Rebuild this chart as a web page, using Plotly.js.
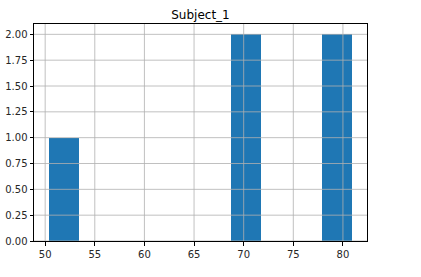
<!DOCTYPE html>
<html>
<head>
<meta charset="utf-8">
<script src="https://cdn.plot.ly/plotly-3.0.1.min.js"></script>
<style>html,body{margin:0;padding:0;background:#fff;}#chart{width:421px;height:277px;}</style>
</head>
<body>
<div id="chart"></div>
<script>
// Data (estimated Subject_1 scores)
const subjectValues = [50.4, 69.5, 71.0, 78.5, 80.9];
const binCount = 10;
const xTickValues = [50, 55, 60, 65, 70, 75, 80];
const yTickValues = [0, 0.25, 0.5, 0.75, 1.0, 1.25, 1.5, 1.75, 2.0];
const chartTitle = 'Subject_1';

// Histogram binning like matplotlib (equal-width bins from min to max)
const vmin = Math.min(...subjectValues);
const vmax = Math.max(...subjectValues);
const binWidth = (vmax - vmin) / binCount;
const counts = new Array(binCount).fill(0);
subjectValues.forEach(v => {
  let i = Math.floor((v - vmin) / binWidth);
  if (i >= binCount) i = binCount - 1;
  counts[i] += 1;
});
const centers = counts.map((_, i) => vmin + binWidth * (i + 0.5));

const xPad = (vmax - vmin) * 0.05;
const yMax = Math.max(...counts) * 1.05;

const gridColor = '#b0b0b0';
const shapes = [];
xTickValues.forEach(t => shapes.push({type: 'line', xref: 'x', yref: 'paper', x0: t, x1: t, y0: 0, y1: 1,
  line: {color: gridColor, width: 0.8}, layer: 'above'}));
yTickValues.forEach(t => shapes.push({type: 'line', xref: 'paper', yref: 'y', x0: 0, x1: 1, y0: t, y1: t,
  line: {color: gridColor, width: 0.8}, layer: 'above'}));

const trace = {
  type: 'bar',
  x: centers,
  y: counts,
  width: binWidth,
  marker: {color: '#1f77b4', line: {width: 0}},
  hoverinfo: 'x+y'
};

const axisFont = {family: 'DejaVu Sans', size: 10, color: '#262626'};
const layout = {
  width: 421, height: 277,
  margin: {l: 34, r: 54, t: 24, b: 36, pad: 0},
  paper_bgcolor: '#ffffff', plot_bgcolor: '#ffffff',
  showlegend: false,
  bargap: 0,
  title: {text: chartTitle, font: {family: 'DejaVu Sans', size: 12, color: '#000000'},
    x: 0.5, xref: 'paper', xanchor: 'center', y: 1, yref: 'paper', yanchor: 'bottom', pad: {b: 5}},
  xaxis: {
    range: [vmin - xPad, vmax + xPad],
    tickvals: xTickValues, ticktext: xTickValues.map(String),
    showgrid: false, zeroline: false,
    showline: true, mirror: true, linecolor: '#000000', linewidth: 1,
    ticks: 'outside', ticklen: 3.5, tickwidth: 1, tickcolor: '#000000',
    tickfont: axisFont
  },
  yaxis: {
    range: [0, yMax],
    tickvals: yTickValues, ticktext: yTickValues.map(v => v.toFixed(2)),
    showgrid: false, zeroline: false,
    showline: true, mirror: true, linecolor: '#000000', linewidth: 1,
    ticks: 'outside', ticklen: 3.5, tickwidth: 1, tickcolor: '#000000',
    tickfont: axisFont
  },
  shapes: shapes
};

Plotly.newPlot('chart', [trace], layout, {staticPlot: true, displayModeBar: false});
</script>
</body>
</html>
